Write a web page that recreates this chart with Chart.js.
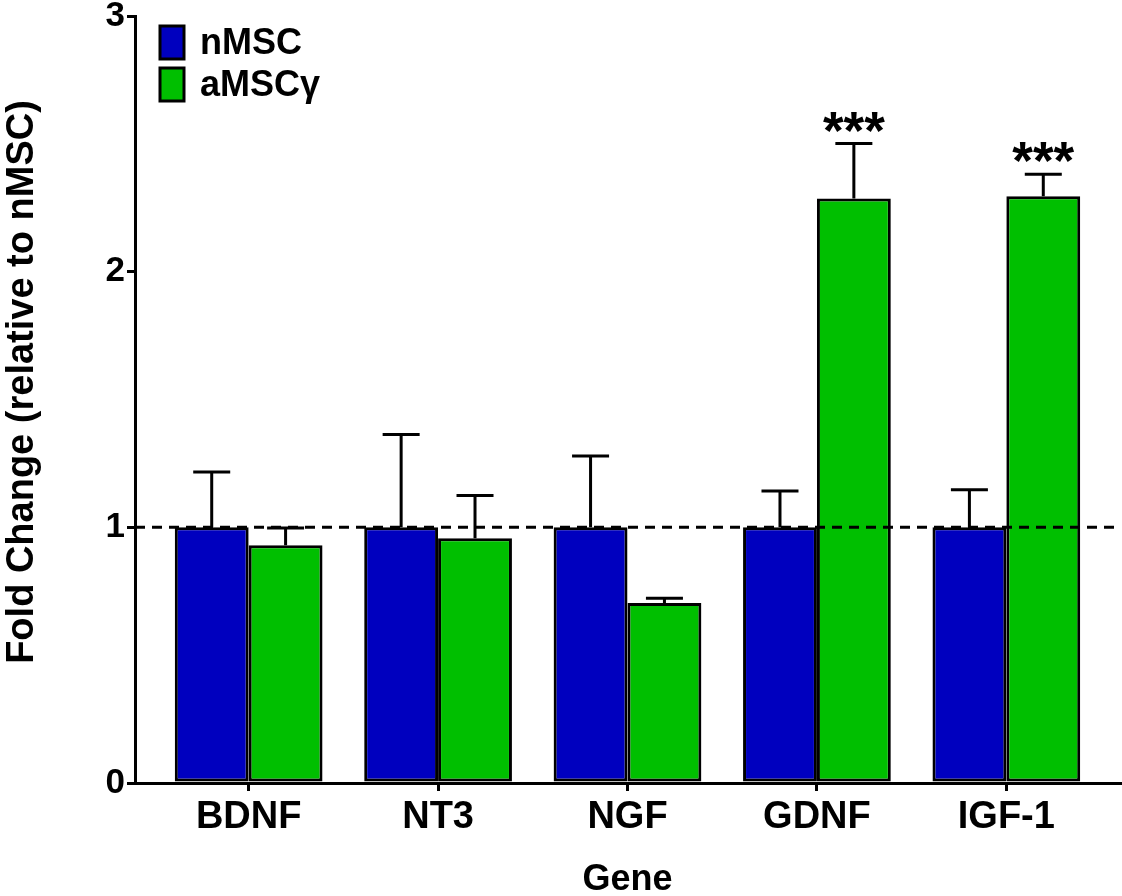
<!DOCTYPE html>
<html>
<head>
<meta charset="utf-8">
<script src="https://cdn.jsdelivr.net/npm/chart.js@4.4.1/dist/chart.umd.min.js"></script>
<style>
html,body{margin:0;padding:0;background:#fff;}
#wrap{width:1122px;height:896px;}
</style>
</head>
<body>
<div id="wrap"><canvas id="c" width="1122" height="896"></canvas></div>
<script>
const genes = ['BDNF','NT3','NGF','GDNF','IGF-1'];
const nMSC = [1.0, 1.0, 1.0, 1.0, 1.0];
const nMSCErr = [0.216, 0.363, 0.279, 0.142, 0.147];
const aMSC = [0.93, 0.957, 0.704, 2.286, 2.295];
const aMSCErr = [0.067, 0.168, 0.019, 0.215, 0.086];
const significance = ['', '', '', '***', '***'];
const yTicks = [0, 1, 2, 3];
const refLine = 1;
const yTitle = 'Fold Change (relative to nMSC)';

const FONT = '"Liberation Sans", Arial, Helvetica, sans-serif';

const toXY = arr => arr.map((v,i)=>({x:i, y:v}));

const overlay = {
  id:'overlay',
  afterDatasetsDraw(chart){
    const {ctx, chartArea, scales:{x,y}} = chart;
    ctx.save();
    // dashed reference line
    ctx.strokeStyle = '#000';
    ctx.lineWidth = 3;
    ctx.setLineDash([10,7]);
    ctx.beginPath();
    ctx.moveTo(chartArea.left, y.getPixelForValue(refLine));
    ctx.lineTo(chartArea.right, y.getPixelForValue(refLine));
    ctx.stroke();
    ctx.setLineDash([]);
    // error bars
    const errs = [nMSCErr, aMSCErr];
    chart.data.datasets.forEach((ds, di)=>{
      const meta = chart.getDatasetMeta(di);
      meta.data.forEach((bar, i)=>{
        const v = ds.data[i].y;
        const top = y.getPixelForValue(v + errs[di][i]);
        const base = y.getPixelForValue(v);
        ctx.beginPath();
        ctx.moveTo(bar.x, base);
        ctx.lineTo(bar.x, top);
        ctx.moveTo(bar.x - 18.5, top);
        ctx.lineTo(bar.x + 18.5, top);
        ctx.stroke();
        if (di === 1 && significance[i]) {
          ctx.fillStyle = '#000';
          ctx.font = 'bold 53px ' + FONT;
          ctx.textAlign = 'center';
          ctx.textBaseline = 'alphabetic';
          ctx.fillText(significance[i], bar.x, top + 5);
        }
      });
    });
    // legend
    ctx.font = 'bold 36px ' + FONT;
    ctx.textAlign = 'left';
    ctx.textBaseline = 'middle';
    chart.data.datasets.forEach((ds, di)=>{
      const bx = 160, by = 26 + di*42;
      ctx.fillStyle = ds.backgroundColor;
      ctx.fillRect(bx, by, 24, 33);
      ctx.lineWidth = 3;
      ctx.strokeStyle = '#000';
      ctx.strokeRect(bx, by, 24, 33);
      ctx.fillStyle = '#000';
      ctx.fillText(ds.label, 200, by + 18);
    });
    // y axis title
    ctx.save();
    ctx.translate(33, 382);
    ctx.rotate(-Math.PI/2);
    ctx.font = 'bold 38px ' + FONT;
    ctx.textAlign = 'center';
    ctx.textBaseline = 'alphabetic';
    ctx.fillStyle = '#000';
    ctx.fillText(yTitle, 0, 0);
    ctx.restore();
    ctx.restore();
  }
};

new Chart(document.getElementById('c'), {
  type: 'bar',
  data: {
    datasets: [
      {label:'nMSC', data: toXY(nMSC), backgroundColor:'#0000BF', borderColor:'#000', borderWidth:3, borderSkipped:false},
      {label:'aMSCγ', data: toXY(aMSC), backgroundColor:'#00BF00', borderColor:'#000', borderWidth:3, borderSkipped:false}
    ]
  },
  options: {
    responsive:false,
    animation:false,
    devicePixelRatio:1,
    categoryPercentage:0.78,
    barPercentage:1.0,
    layout:{padding:{top:16, right:2, left:0, bottom:0}},
    plugins:{
      legend:{display:false},
      tooltip:{enabled:false}
    },
    scales:{
      x:{
        type:'linear',
        min:-0.6, max:4.6,
        offset:false,
        afterBuildTicks(scale){ scale.ticks = genes.map((g,i)=>({value:i})); },
        afterFit(scale){ scale.height = 113; scale.paddingLeft = 0; scale.paddingRight = 0; },
        ticks:{
          color:'#000',
          font:{family:FONT, size:38, weight:'bold'},
          padding:4,
          autoSkip:false,
          maxRotation:0,
          callback:(v)=>genes[v]
        },
        grid:{drawOnChartArea:false, offset:false, color:'#000', lineWidth:3, tickLength:8},
        border:{color:'#000', width:3},
        title:{display:true, text:'Gene', color:'#000', font:{family:FONT, size:36, weight:'bold'}, padding:{top:0,bottom:-6}}
      },
      y:{
        min:0, max:3,
        afterBuildTicks(scale){ scale.ticks = yTicks.map(v=>({value:v})); },
        afterFit(scale){ scale.width = 135; scale.paddingTop = 0; scale.paddingBottom = 0; },
        ticks:{
          color:'#000',
          font:{family:FONT, size:35, weight:'bold'},
          padding:2
        },
        grid:{drawOnChartArea:false, color:'#000', lineWidth:3, tickLength:8},
        border:{color:'#000', width:3}
      }
    }
  },
  plugins:[overlay]
});
</script>
</body>
</html>
